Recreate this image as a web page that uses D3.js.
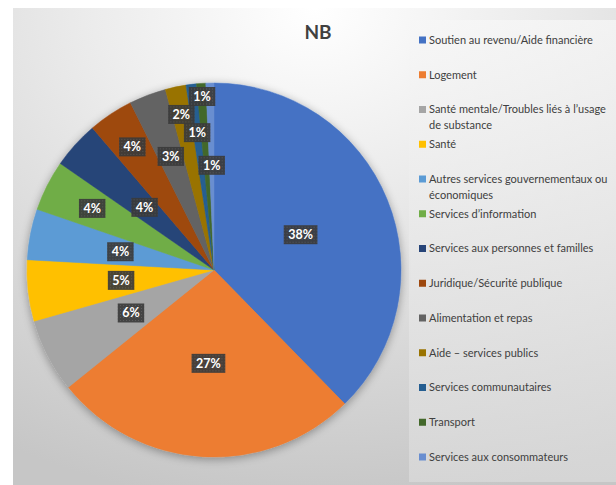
<!DOCTYPE html>
<html>
<head>
<meta charset="utf-8">
<script src="https://cdn.jsdelivr.net/npm/d3@7"></script>
<style>
  html, body { margin: 0; padding: 0; background: #ffffff; }
  svg { display: block; }
</style>
</head>
<body>
<svg id="chart" width="616" height="485"></svg>
<script>
// ---- data ----
const title = "NB";
const categories = [
  "Soutien au revenu/Aide financière",
  "Logement",
  "Santé mentale/Troubles liés à l’usage de substance",
  "Santé",
  "Autres services gouvernementaux ou économiques",
  "Services d’information",
  "Services aux personnes et familles",
  "Juridique/Sécurité publique",
  "Alimentation et repas",
  "Aide – services publics",
  "Services communautaires",
  "Transport",
  "Services aux consommateurs"
];
const legendLines = [
  ["Soutien au revenu/Aide financière"],
  ["Logement"],
  ["Santé mentale/Troubles liés à l’usage", "de substance"],
  ["Santé"],
  ["Autres services gouvernementaux ou", "économiques"],
  ["Services d’information"],
  ["Services aux personnes et familles"],
  ["Juridique/Sécurité publique"],
  ["Alimentation et repas"],
  ["Aide – services publics"],
  ["Services communautaires"],
  ["Transport"],
  ["Services aux consommateurs"]
];
const values = [37.8, 26.6, 6.4, 5.3, 4.4, 4.4, 4.1, 3.9, 3.2, 1.8, 0.9, 0.8, 0.7];
const colors = ["#4472C4", "#ED7D31", "#A5A5A5", "#FFC000", "#5B9BD5", "#70AD47",
                "#264478", "#9E480E", "#636363", "#997300", "#255E91", "#43682B", "#698ED0"];
// label placement (fraction of radius) — Excel "best fit"
const labelRadius = [0.50, 0.50, 0.50, 0.50, 0.51, 0.73, 0.50, 0.79, 0.65, 0.85, 0.74, 0.93, 0.56];

// ---- layout ----
const svg = d3.select("#chart");
const W = 616, H = 485;
const cx = 214, cy = 270, R = 187;

const defs = svg.append("defs");
const bg = defs.append("radialGradient").attr("id", "bgGrad")
  .attr("cx", "0.5").attr("cy", "0.0").attr("r", "1.05")
  .attr("gradientUnits", "objectBoundingBox");
bg.append("stop").attr("offset", "0").attr("stop-color", "#ffffff");
bg.append("stop").attr("offset", "0.35").attr("stop-color", "#ececec");
bg.append("stop").attr("offset", "1").attr("stop-color", "#c6c6c6");

const lg = defs.append("linearGradient").attr("id", "legGrad")
  .attr("x1", "0").attr("y1", "0").attr("x2", "0").attr("y2", "1");
lg.append("stop").attr("offset", "0").attr("stop-color", "#f7f7f7");
lg.append("stop").attr("offset", "1").attr("stop-color", "#dadada");

const shadow = defs.append("filter").attr("id", "pieShadow")
  .attr("x", "-20%").attr("y", "-20%").attr("width", "140%").attr("height", "140%");
shadow.append("feGaussianBlur").attr("in", "SourceAlpha").attr("stdDeviation", 5).attr("result", "b");
shadow.append("feOffset").attr("in", "b").attr("dx", 0).attr("dy", 2).attr("result", "o");
shadow.append("feComponentTransfer").attr("in", "o").attr("result", "s")
  .append("feFuncA").attr("type", "linear").attr("slope", 0.35);
const fm = shadow.append("feMerge");
fm.append("feMergeNode").attr("in", "s");
fm.append("feMergeNode").attr("in", "SourceGraphic");

const pat = defs.append("pattern").attr("id", "dots")
  .attr("width", 3).attr("height", 3).attr("patternUnits", "userSpaceOnUse");
pat.append("rect").attr("width", 3).attr("height", 3).attr("fill", "#3a3a3a");
pat.append("rect").attr("x", 1).attr("y", 1).attr("width", 1).attr("height", 1).attr("fill", "#555555");

// background
svg.append("rect").attr("x", 13).attr("y", 8).attr("width", W - 13).attr("height", H - 8)
  .attr("fill", "url(#bgGrad)");

// legend panel
svg.append("rect").attr("x", 409).attr("y", 20).attr("width", W - 409).attr("height", 462)
  .attr("fill", "url(#legGrad)").attr("opacity", 0.75);

// title
svg.append("text").attr("x", 318).attr("y", 39)
  .attr("text-anchor", "middle")
  .attr("font-family", "Lato, 'Open Sans', sans-serif")
  .attr("font-weight", "bold").attr("font-size", 19)
  .attr("fill", "#404040").text(title);

// pie
const pie = d3.pie().sort(null).value(d => d)
  .startAngle(0).endAngle(2 * Math.PI);
const arcs = pie(values);
const arc = d3.arc().innerRadius(0).outerRadius(R);

const g = svg.append("g").attr("transform", `translate(${cx},${cy})`);
g.append("g").attr("filter", "url(#pieShadow)")
  .selectAll("path").data(arcs).join("path")
  .attr("d", arc)
  .attr("fill", (d, i) => colors[i])
  .attr("stroke", (d, i) => colors[i]).attr("stroke-width", 0.5);

// labels
const fmt = d3.format(".0f");
const total = d3.sum(values);
const labG = g.append("g");
arcs.forEach((d, i) => {
  const mid = (d.startAngle + d.endAngle) / 2;
  const r = R * labelRadius[i];
  const x = r * Math.sin(mid), y = -r * Math.cos(mid);
  const txt = fmt(values[i] / total * 100) + "%";
  const lab = labG.append("g").attr("transform", `translate(${x},${y})`);
  const t = lab.append("text")
    .attr("text-anchor", "middle").attr("dy", "0.36em")
    .attr("font-family", "Lato, 'Open Sans', sans-serif")
    .attr("font-weight", "bold").attr("font-size", 12.5)
    .attr("fill", "#ffffff").text(txt);
  const bb = t.node().getBBox();
  lab.insert("rect", "text")
    .attr("x", bb.x - 4.5).attr("y", -9.5).attr("width", bb.width + 9).attr("height", 19)
    .attr("fill", "url(#dots)").attr("opacity", 0.92);
});

// legend
const legY = d3.scalePoint().domain(d3.range(categories.length)).range([40, 457]);
const leg = svg.append("g");
categories.forEach((c, i) => {
  const y = legY(i);
  leg.append("rect").attr("x", 419).attr("y", y - 3.5).attr("width", 7).attr("height", 7)
    .attr("fill", colors[i]);
  legendLines[i].forEach((line, j) => {
    leg.append("text").attr("x", 429).attr("y", y + j * 16).attr("dy", "0.35em")
      .attr("font-family", "Lato, 'Open Sans', sans-serif")
      .attr("font-size", 11).attr("fill", "#404040").text(line);
  });
});
</script>
</body>
</html>
